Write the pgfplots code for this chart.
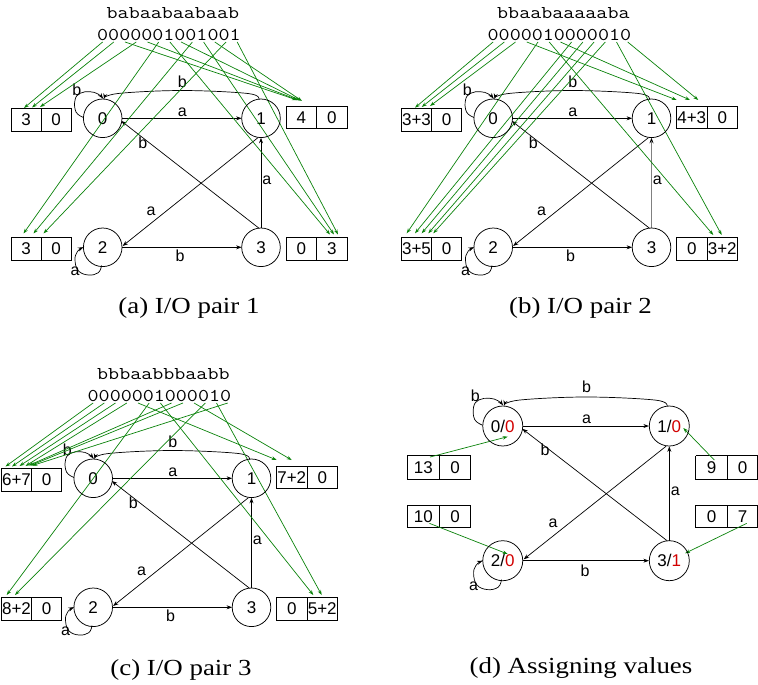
\documentclass[border=0pt]{standalone}
\usepackage{fontspec}
\setmainfont{Liberation Sans}
\newfontfamily\serif{Liberation Serif}
\usepackage{pgfplots}
\pgfplotsset{compat=1.18}
\usetikzlibrary{arrows.meta}
\definecolor{grn}{RGB}{10,130,10}
\definecolor{rd}{RGB}{210,0,0}
\pgfplotsset{
  panel/.style={scale only axis, hide axis, clip=false, enlargelimits=false,
    xmin=0, xmax=380, ymin=0, ymax=320, y dir=reverse,
    width=380pt, height=320pt, anchor=north west},
  edge/.style={black, line width=0.7pt, -{Stealth[length=5.5pt,width=4pt]}},
  gr/.style={grn, line width=0.7pt, -{Stealth[length=5pt,width=3.5pt]}},
  boxl/.style={black, line width=0.75pt},
}
\tikzset{
  lbl/.style={inner sep=0pt, font=\fontsize{16}{16}\selectfont},
  num/.style={inner sep=0pt, font=\fontsize{17}{17}\selectfont},
  str/.style={inner sep=0pt, anchor=base west, font=\fontsize{18}{18}\selectfont\ttfamily},
  captxt/.style={inner sep=0pt, anchor=base, font=\fontsize{23}{23}\selectfont\serif},
}
\newcommand\mstr[1]{\scalebox{1.19}[1]{#1}}
\newcommand\capt[1]{\scalebox{1.17}[1]{#1}}
\newcommand\graphedges[1]{%
  \addplot[only marks, mark=o, mark size=#1, mark options={line width=0.75pt}, black] coordinates {(102.7,118.3) (261,118.3) (102.7,247.3) (261,247.3)};
  \addplot[edge] coordinates {(122,118.3) (241.6,118.3)};
  \addplot[edge, smooth, tension=0.6] coordinates {(259,99.3) (248,93.5) (182,90.5) (118,93.5) (104,99)};
  \addplot[edge, smooth, tension=0.7] coordinates {(83.5,117.5) (76,112) (75,100) (80,93.3) (90,91.7) (98,94) (103,98.5)};
  \addplot[edge] coordinates {(259,228.2) (121.3,121)};
  \addplot[edge] coordinates {(261,228) (261,137.8)};
  \addplot[edge] coordinates {(258,137.6) (122.6,246)};
  \addplot[edge] coordinates {(122,247.3) (241.6,247.3)};
  \addplot[edge, smooth, tension=0.7] coordinates {(101.5,265.5) (98.3,272.7) (88.3,275) (78.3,270.7) (75,260) (77.3,251.7) (83.4,247.3)};
  \node[lbl] at (axis cs:76.7,90) {b};
  \node[lbl] at (axis cs:182.3,82) {b};
  \node[lbl] at (axis cs:182.3,112) {a};
  \node[lbl] at (axis cs:142.7,142.7) {b};
  \node[lbl] at (axis cs:266.7,180.7) {a};
  \node[lbl] at (axis cs:151,211.7) {a};
  \node[lbl] at (axis cs:180,256) {b};
  \node[lbl] at (axis cs:75,271.7) {a};
}
\newcommand\statelabels{%
  \node[num] at (axis cs:102.7,118.3) {0};
  \node[num] at (axis cs:261,118.3) {1};
  \node[num] at (axis cs:102.7,247.3) {2};
  \node[num] at (axis cs:261,247.3) {3};
}
% x0, xm, x1, y0, y1, left, right
\newcommand\cellbox[7]{%
  \addplot[boxl] coordinates {(#1,#4) (#3,#4) (#3,#5) (#1,#5) (#1,#4)};
  \addplot[boxl] coordinates {(#2,#4) (#2,#5)};
  \node[num] at (axis cs:{(#1+#2)/2},{(#4+#5)/2}) {#6};
  \node[num] at (axis cs:{(#2+#3)/2},{(#4+#5)/2}) {#7};
}
\newcommand\stdboxes[8]{%
  \cellbox{11}{41}{71}{108}{131.5}{#1}{#2}
  \cellbox{286}{316.5}{347}{106}{128.5}{#3}{#4}
  \cellbox{11}{41}{71}{237}{260}{#5}{#6}
  \cellbox{286}{316.5}{347}{237}{260}{#7}{#8}
}
\begin{document}
\begin{tikzpicture}
\useasboundingbox (0,0) rectangle (758pt,-685pt);
% ---------------- (a)
\begin{axis}[panel, at={(0pt,0pt)}]
  \graphedges{19.3pt}
  \statelabels
  \stdboxes{3}{0}{4}{0}{3}{0}{0}{3}
  \node[str] at (axis cs:106.5,18.3) {\mstr{babaabaabaab}};
  \node[str] at (axis cs:97,40.5) {\mstr{0000001001001}};
  % state 0: bits 0,1,3
  \addplot[gr] coordinates {(102.6,42) (24,108)};
  \addplot[gr] coordinates {(113.8,42) (32,107.5)};
  \addplot[gr] coordinates {(136.3,42) (40,107)};
  % state 1: bits 2,4,7,10
  \addplot[gr] coordinates {(125.0,42) (297,100)};
  \addplot[gr] coordinates {(147.5,42) (298,100)};
  \addplot[gr] coordinates {(181.1,42) (300,100.5)};
  \addplot[gr] coordinates {(214.8,42) (302,101)};
  % state 2: bits 5,8,11
  \addplot[gr] coordinates {(158.7,42) (23.5,233.5)};
  \addplot[gr] coordinates {(192.4,42) (33.5,233.5)};
  \addplot[gr] coordinates {(226.0,42) (43.5,233.5)};
  % state 3: bits 6,9,12
  \addplot[gr] coordinates {(169.9,42) (330,234.5)};
  \addplot[gr] coordinates {(203.6,42) (334,234.5)};
  \addplot[gr] coordinates {(237.2,42) (338,234.5)};
  \node[captxt] at (axis cs:189,313.5) {\capt{(a) I/O pair 1}};
\end{axis}
% ---------------- (b)
\begin{axis}[panel, at={(390.5pt,0pt)}]
  \graphedges{19.3pt}
  \addplot[gray, line width=1.8pt] coordinates {(261,228) (261,141)};
  \statelabels
  \stdboxes{3+3}{0}{4+3}{0}{3+5}{0}{0}{3+2}
  \node[str] at (axis cs:106.5,18.3) {\mstr{bbaabaaaaaba}};
  \node[str] at (axis cs:97,40.5) {\mstr{0000010000010}};
  % state 0: bits 0,1,2
  \addplot[gr] coordinates {(102.6,42) (24.5,107.7)};
  \addplot[gr] coordinates {(113.8,42) (31.2,107)};
  \addplot[gr] coordinates {(125.0,42) (39.5,106)};
  % state 1: bits 3,6,12
  \addplot[gr] coordinates {(136.3,42) (286.2,100)};
  \addplot[gr] coordinates {(169.9,42) (299.5,100)};
  \addplot[gr] coordinates {(237.2,42) (307.8,100)};
  % state 2: bits 4,7,8,9,10
  \addplot[gr] coordinates {(147.5,42) (16.2,233.3)};
  \addplot[gr] coordinates {(181.1,42) (24.5,233.3)};
  \addplot[gr] coordinates {(192.4,42) (31.2,233.3)};
  \addplot[gr] coordinates {(203.6,42) (37.8,233.3)};
  \addplot[gr] coordinates {(214.8,42) (42.8,233.3)};
  % state 3: bits 5,11
  \addplot[gr] coordinates {(158.7,42) (322.8,235)};
  \addplot[gr] coordinates {(226.0,42) (331.2,235)};
  \node[captxt] at (axis cs:190,313.5) {\capt{(b) I/O pair 2}};
\end{axis}
% ---------------- (c)
\begin{axis}[panel, at={(-9.5pt,-360pt)}]
  \graphedges{19.3pt}
  \statelabels
  \stdboxes{6+7}{0}{7+2}{0}{8+2}{0}{0}{5+2}
  \node[str] at (axis cs:106.5,19.3) {\mstr{bbbaabbbaabb}};
  \node[str] at (axis cs:97,41.5) {\mstr{0000001000010}};
  % state 0: bits 0,1,2,3,7,8,12
  \addplot[gr] coordinates {(102.6,43) (15,106.5)};
  \addplot[gr] coordinates {(113.8,43) (21.5,106.5)};
  \addplot[gr] coordinates {(125.0,43) (29,106)};
  \addplot[gr] coordinates {(136.3,43) (35,106)};
  \addplot[gr] coordinates {(181.1,43) (38,105.5)};
  \addplot[gr] coordinates {(192.4,43) (40,105.5)};
  \addplot[gr] coordinates {(237.2,43) (42,105.5)};
  % state 1: bits 4,9
  \addplot[gr] coordinates {(147.5,43) (286.2,100)};
  \addplot[gr] coordinates {(203.6,43) (301.2,100)};
  % state 2: bits 5,10
  \addplot[gr] coordinates {(158.7,43) (16.2,235)};
  \addplot[gr] coordinates {(214.8,43) (24.5,235)};
  % state 3: bits 6,11
  \addplot[gr] coordinates {(169.9,43) (322.8,235)};
  \addplot[gr] coordinates {(226.0,43) (331.2,235)};
  \node[captxt] at (axis cs:190.5,315) {\capt{(c) I/O pair 3}};
\end{axis}
% ---------------- (d)
\begin{axis}[panel, width=399.8pt, height=334.1pt, at={(394.7pt,-302.5pt)}]
  \addplot[only marks, mark=o, mark size=20pt, mark options={line width=0.75pt}, black] coordinates {(102.7,118.3) (261,118.3) (102.7,247.3) (261,247.3)};
  \addplot[edge] coordinates {(122,118.3) (241.6,118.3)};
  \addplot[edge, smooth, tension=0.6] coordinates {(259,99.3) (248,93.5) (182,90.5) (118,93.5) (104,99)};
  \addplot[edge, smooth, tension=0.7] coordinates {(83.5,117.5) (76,112) (75,100) (80,93.3) (90,91.7) (98,94) (103,98.5)};
  \addplot[edge] coordinates {(259,228.2) (121.3,121)};
  \addplot[edge] coordinates {(261,228) (261,137.8)};
  \addplot[edge] coordinates {(258,137.6) (122.6,246)};
  \addplot[edge] coordinates {(122,247.3) (241.6,247.3)};
  \addplot[edge, smooth, tension=0.7] coordinates {(101.5,265.5) (98.3,272.7) (88.3,275) (78.3,270.7) (75,260) (77.3,251.7) (83.4,247.3)};
  \node[lbl] at (axis cs:76.7,89) {b};
  \node[lbl] at (axis cs:182.3,81) {b};
  \node[lbl] at (axis cs:182.3,112) {a};
  \node[lbl] at (axis cs:143,141.5) {b};
  \node[lbl] at (axis cs:266.7,180.7) {a};
  \node[lbl] at (axis cs:150.5,211.5) {a};
  \node[lbl] at (axis cs:181,256.5) {b};
  \node[lbl] at (axis cs:75,272) {a};
  \node[num] at (axis cs:102.7,118.3) {0/\textcolor{rd}{0}};
  \node[num] at (axis cs:261,118.3) {1/\textcolor{rd}{0}};
  \node[num] at (axis cs:102.7,247.3) {2/\textcolor{rd}{0}};
  \node[num] at (axis cs:261,247.3) {3/\textcolor{rd}{1}};
  \cellbox{12}{42.4}{72.2}{146.7}{169}{13}{0}
  \cellbox{286.1}{316.5}{344.9}{146.7}{169}{9}{0}
  \cellbox{12}{42.4}{72.2}{194}{215.7}{10}{0}
  \cellbox{286.1}{316.5}{344.9}{194}{215.7}{0}{7}
  \addplot[gr] coordinates {(33.6,148) (107.4,128.5)};
  \addplot[gr] coordinates {(303.8,150.9) (274.3,120.2)};
  \addplot[gr] coordinates {(33,211.5) (107.4,240.9)};
  \addplot[gr] coordinates {(334.6,211.5) (276,240.2)};
  \node[captxt] at (axis cs:177.1,355.8) {\capt{(d) Assigning values}};
\end{axis}
\end{tikzpicture}
\end{document}
